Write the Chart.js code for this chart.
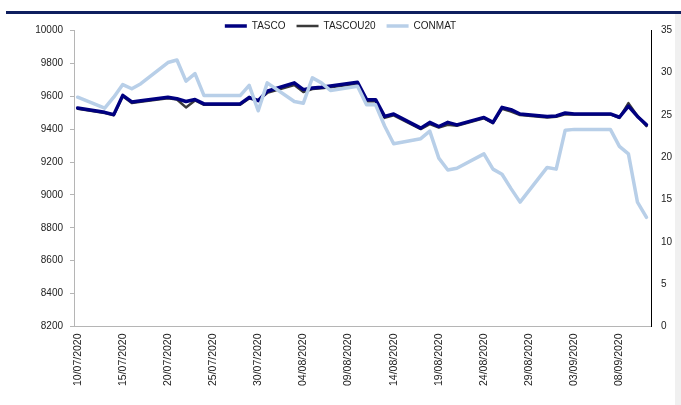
<!DOCTYPE html>
<html>
<head>
<meta charset="utf-8">
<script src="https://cdn.jsdelivr.net/npm/chart.js@4/dist/chart.umd.min.js"></script>
<style>
    html, body { margin: 0; padding: 0; background: #fff; }
    #wrap { position: relative; width: 681px; height: 405px; overflow: hidden; }
    #topbar { position: absolute; left: 6px; top: 11px; width: 675px; height: 3px; background: #0f1f5f; }
    #side { position: absolute; right: 0; top: 14px; width: 6px; height: 391px; background: #f0f0f0; }
    canvas { position: absolute; left: 0; top: 0; }
</style>
</head>
<body>
<div id="wrap">
    <div id="topbar"></div>
    <div id="side"></div>
    <canvas id="chart" width="681" height="405"></canvas>
</div>
<script>
// every calendar day on the axis, weekends have no quotes
const dates = [
    '10/07/2020', '11/07/2020', '12/07/2020', '13/07/2020', '14/07/2020', '15/07/2020', '16/07/2020', '17/07/2020',
    '18/07/2020', '19/07/2020', '20/07/2020', '21/07/2020', '22/07/2020', '23/07/2020', '24/07/2020', '25/07/2020',
    '26/07/2020', '27/07/2020', '28/07/2020', '29/07/2020', '30/07/2020', '31/07/2020', '01/08/2020', '02/08/2020',
    '03/08/2020', '04/08/2020', '05/08/2020', '06/08/2020', '07/08/2020', '08/08/2020', '09/08/2020', '10/08/2020',
    '11/08/2020', '12/08/2020', '13/08/2020', '14/08/2020', '15/08/2020', '16/08/2020', '17/08/2020', '18/08/2020',
    '19/08/2020', '20/08/2020', '21/08/2020', '22/08/2020', '23/08/2020', '24/08/2020', '25/08/2020', '26/08/2020',
    '27/08/2020', '28/08/2020', '29/08/2020', '30/08/2020', '31/08/2020', '01/09/2020', '02/09/2020', '03/09/2020',
    '04/09/2020', '05/09/2020', '06/09/2020', '07/09/2020', '08/09/2020', '09/09/2020', '10/09/2020', '11/09/2020'
];

const tasco = [
    9528, null, null, 9502, 9488, 9605, 9565, 9572,
    null, null, 9593, 9585, 9568, 9580, 9553, null,
    null, 9553, 9553, 9593, 9573, 9630, null, null,
    9681, 9640, 9650, 9655, 9662, null, null, 9685,
    9579, 9579, 9477, 9492, null, null, 9406, 9441,
    9416, 9441, 9426, null, null, 9471, 9441, 9532,
    9518, 9492, null, null, 9477, 9480, 9498, 9492,
    9492, null, null, 9492, 9472, 9540, 9477, 9426
];

const tascoU20 = [
    9524, null, null, 9498, 9484, 9600, 9558, 9566,
    null, null, 9588, 9580, 9532, 9574, 9548, null,
    null, 9548, 9548, 9586, 9575, 9620, null, null,
    9668, 9625, 9644, 9648, 9655, null, null, 9676,
    9570, 9570, 9468, 9484, null, null, 9400, 9430,
    9410, 9426, 9420, null, null, 9465, 9436, 9524,
    9506, 9485, null, null, 9470, 9475, 9490, 9488,
    9488, null, null, 9490, 9468, 9558, 9480, 9418
];

const conmat = [
    27.1, null, null, 25.8, 27.1, 28.6, 28.1, 28.7,
    null, null, 31.2, 31.5, 29.0, 29.9, 27.3, null,
    null, 27.3, 27.3, 28.5, 25.5, 28.8, null, null,
    26.6, 26.4, 29.4, 28.8, 27.9, null, null, 28.4,
    26.2, 26.2, 23.7, 21.6, null, null, 22.2, 23.1,
    19.9, 18.5, 18.7, null, null, 20.4, 18.6, 18.0,
    16.3, 14.7, null, null, 18.8, 18.6, 23.2, 23.3,
    23.3, null, null, 23.3, 21.3, 20.4, 14.7, 12.9
];

const seriesNames = ['TASCO', 'TASCOU20', 'CONMAT'];

document.addEventListener('DOMContentLoaded', () => {
    const ctx = document.getElementById('chart').getContext('2d');
    const toPoints = values => dates.map((d, i) => ({ x: i, y: values[i] }));
    const tickFont = { family: 'Liberation Sans', size: 10 };

    new Chart(ctx, {
        type: 'line',
        data: {
            datasets: [
                {
                    label: seriesNames[0],
                    data: toPoints(tasco),
                    yAxisID: 'y',
                    borderColor: '#000080',
                    borderWidth: 3.5,
                    order: 2
                },
                {
                    label: seriesNames[1],
                    data: toPoints(tascoU20),
                    yAxisID: 'y',
                    borderColor: '#3a3a3a',
                    borderWidth: 2.5,
                    order: 3
                },
                {
                    label: seriesNames[2],
                    data: toPoints(conmat),
                    yAxisID: 'y1',
                    borderColor: '#b8cfe8',
                    borderWidth: 3.5,
                    order: 1
                }
            ]
        },
        options: {
            responsive: false,
            animation: false,
            spanGaps: true,
            elements: {
                point: { radius: 0 },
                line: { tension: 0, borderJoinStyle: 'round', borderCapStyle: 'round' }
            },
            layout: {
                padding: { top: 10, left: 0, right: 0, bottom: 0 }
            },
            plugins: {
                tooltip: { enabled: false },
                legend: {
                    position: 'top',
                    maxHeight: 20.4,
                    labels: {
                        usePointStyle: true,
                        pointStyle: 'line',
                        pointStyleWidth: 22,
                        padding: 11,
                        color: '#222',
                        font: { family: 'Liberation Sans', size: 10 },
                        sort: (a, b) => a.datasetIndex - b.datasetIndex
                    }
                }
            },
            scales: {
                x: {
                    type: 'linear',
                    min: -0.4,
                    max: 63.5,
                    afterFit: scale => { scale.height = 78.5; },
                    border: { display: true, color: '#b5b5b5', width: 1 },
                    grid: { display: false, drawTicks: false },
                    ticks: {
                        stepSize: 5,
                        includeBounds: false,
                        minRotation: 90,
                        maxRotation: 90,
                        padding: 7,
                        color: '#222',
                        font: { family: 'Liberation Sans', size: 10.5 },
                        callback: value => dates[value]
                    }
                },
                y: {
                    position: 'left',
                    min: 8200,
                    max: 10000,
                    afterFit: scale => { scale.width = 74; },
                    border: { display: true, color: '#b5b5b5', width: 1 },
                    grid: { display: true, drawOnChartArea: false, drawTicks: true, tickLength: 4, color: '#b5b5b5' },
                    ticks: { stepSize: 200, padding: 7, color: '#222', font: tickFont, callback: value => String(value) }
                },
                y1: {
                    position: 'right',
                    min: 0,
                    max: 35,
                    afterFit: scale => { scale.width = 30; },
                    border: { display: true, color: '#000', width: 1 },
                    grid: { display: false, drawTicks: false },
                    ticks: { stepSize: 5, padding: 10, color: '#222', font: tickFont }
                }
            }
        }
    });
});
</script>
</body>
</html>
